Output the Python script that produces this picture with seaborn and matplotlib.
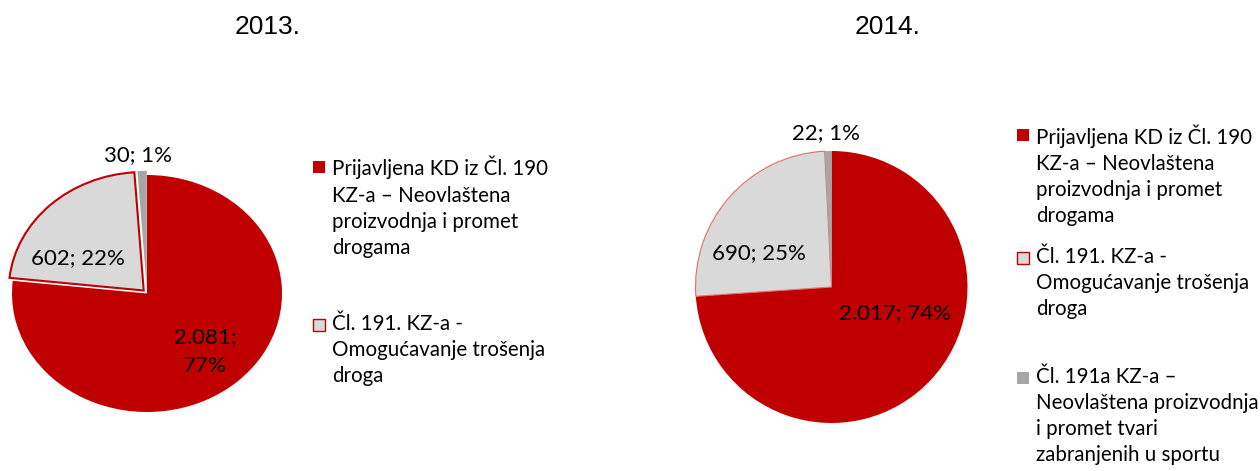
import matplotlib
matplotlib.use("Agg")
import matplotlib.pyplot as plt
from matplotlib.patches import Rectangle
import seaborn as sns

# ---- data ----
years = ["2013.", "2014."]
categories = [
    "Prijavljena KD iz Čl. 190\nKZ-a – Neovlaštena\nproizvodnja i promet\ndrogama",
    "Čl. 191. KZ-a -\nOmogućavanje trošenja\ndroga",
    "Čl. 191a KZ-a –\nNeovlaštena proizvodnja\ni promet tvari\nzabranjenih u sportu",
]
values_2013 = [2081, 602, 30]
values_2014 = [2017, 690, 22]
legend_count = [2, 3]  # entries visible in each legend

colors = ["#C00000", "#D9D9D9", "#A6A6A6"]

sns.set_theme(style="white")
plt.rcParams["font.family"] = ["Lato", "DejaVu Sans"]

W, H = 1260, 471
fig = plt.figure(figsize=(W / 100, H / 100), dpi=100)


def fx(x):
    return x / W


def fy(y):
    return 1 - y / H


def fmt(v):
    return f"{v:,}".replace(",", ".")


def pie_axes(cx, cy, rx, ry, L=1.3):
    w = 2 * L * rx
    h = 2 * L * ry
    return fig.add_axes([fx(cx - w / 2), fy(cy + h / 2), w / W, h / H])


label_font = 16
legend_font = 14.8

# ---------- 2013 ----------
ax1 = pie_axes(147, 293.5, 135, 118.5)
w1, _ = ax1.pie(values_2013, colors=colors, startangle=90, counterclock=False,
                explode=[0, 0.035, 0.035], wedgeprops=dict(linewidth=0))
w1[1].set_edgecolor("#C00000")
w1[1].set_linewidth(1.5)
for w in w1:
    w.set_clip_on(False)
ax1.set_aspect("auto")
ax1.set_xlim(-1.3, 1.3)
ax1.set_ylim(-1.3, 1.3)
ax1.axis("off")

tot = sum(values_2013)
pos13 = [(0.43, -0.49), (-0.51, 0.30), (-0.07, 1.17)]
for i, v in enumerate(values_2013):
    pct = round(100 * v / tot)
    txt = f"{fmt(v)};\n{pct}%" if i == 0 else f"{fmt(v)}; {pct}%"
    ax1.text(pos13[i][0], pos13[i][1], txt, ha="center", va="center",
             fontsize=label_font, color="black", linespacing=1.6)

# ---------- 2014 ----------
ax2 = pie_axes(831.5, 287, 136, 136)
w2, _ = ax2.pie(values_2014, colors=colors, startangle=90, counterclock=False,
                wedgeprops=dict(linewidth=0))
w2[1].set_edgecolor("#E07070")
w2[1].set_linewidth(0.8)
for w in w2:
    w.set_clip_on(False)
ax2.set_aspect("auto")
ax2.set_xlim(-1.3, 1.3)
ax2.set_ylim(-1.3, 1.3)
ax2.axis("off")

tot = sum(values_2014)
pos14 = [(0.47, -0.19), (-0.53, 0.25), (-0.04, 1.13)]
for i, v in enumerate(values_2014):
    pct = round(100 * v / tot)
    ax2.text(pos14[i][0], pos14[i][1], f"{fmt(v)}; {pct}%", ha="center", va="center",
             fontsize=label_font, color="black")

# ---------- titles ----------
for x, t in zip([268, 888], years):
    fig.text(fx(x), fy(27), t, ha="center", va="center", fontsize=19,
             family="Liberation Sans", color="black")

# ---------- legends ----------
leg_specs = [
    (313, 332, [167, 325]),
    (1017, 1036, [135, 258, 378]),
]
for (mx, tx, ys), n in zip(leg_specs, legend_count):
    for i in range(n):
        yc = ys[i]
        ec = "#C00000" if i == 1 else colors[i]
        fig.patches.append(Rectangle((fx(mx), fy(yc + 6)), 12 / W, 12 / H,
                                     transform=fig.transFigure, facecolor=colors[i],
                                     edgecolor=ec, linewidth=1 if i == 1 else 0))
        fig.text(fx(tx), fy(yc - 11), categories[i], ha="left", va="top",
                 fontsize=legend_font, linespacing=1.385, color="black")

fig.savefig("out.png", dpi=100)
